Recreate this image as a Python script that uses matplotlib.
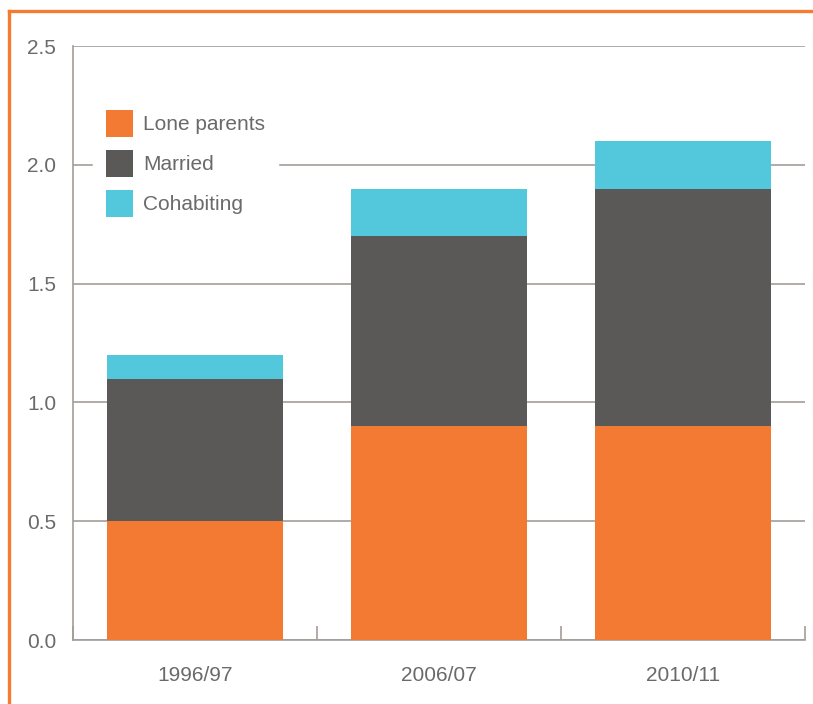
import matplotlib.pyplot as plt
from matplotlib.lines import Line2D
import numpy as np

# data
years = ["1996/97", "2006/07", "2010/11"]
lone_parents = [0.5, 0.9, 0.9]
married = [0.6, 0.8, 1.0]
cohabiting = [0.1, 0.2, 0.2]
yticks = [0.0, 0.5, 1.0, 1.5, 2.0, 2.5]

orange = "#F37A33"
dark = "#5B5957"
cyan = "#53C7DB"
grid_c = "#A39D97"
text_c = "#6A6A6A"

plt.rcParams['font.family'] = ['Liberation Sans', 'DejaVu Sans']

fig = plt.figure(figsize=(8.13, 7.04), dpi=100)
ax = fig.add_axes([73/813, 1 - 640/704, 732/813, 594/704])

x = np.arange(len(years))
w = 0.72
b1 = ax.bar(x, lone_parents, w, color=orange, zorder=3, label="Lone parents")
b2 = ax.bar(x, married, w, bottom=lone_parents, color=dark, zorder=3, label="Married")
bottom3 = np.add(lone_parents, married)
b3 = ax.bar(x, cohabiting, w, bottom=bottom3, color=cyan, zorder=3, label="Cohabiting")

ax.set_xlim(-0.5, len(years) - 0.5)
ax.set_ylim(0, 2.5)
ax.set_yticks(yticks)
ax.set_yticklabels([f"{v:.1f}" for v in yticks])
ax.yaxis.grid(True, color=grid_c, linewidth=1.2, zorder=0)
ax.set_axisbelow(True)

for s in ["top", "right"]:
    ax.spines[s].set_visible(False)
for s in ["left", "bottom"]:
    ax.spines[s].set_color(grid_c)
    ax.spines[s].set_linewidth(1.2)

ax.set_xticks(x)
ax.set_xticklabels(years)
ax.set_xticks(np.arange(-0.5, len(years)), minor=True)
ax.tick_params(axis="x", which="major", length=0, pad=19, labelsize=15, labelcolor=text_c)
ax.tick_params(axis="x", which="minor", direction="in", length=10, width=1.2, color=grid_c)
ax.tick_params(axis="y", length=0, pad=12, labelsize=15, labelcolor=text_c)

leg = ax.legend(handles=[b1, b2, b3], loc="upper left",
                bbox_to_anchor=(20/732, (640-97)/594),
                frameon=True, fancybox=False, framealpha=1, edgecolor="white",
                fontsize=15, handlelength=1.3, handleheight=1.62,
                handletextpad=0.5, labelspacing=0.63, borderpad=0.6,
                borderaxespad=0)
for t in leg.get_texts():
    t.set_color(text_c)
leg.set_zorder(5)

# orange frame
fig.add_artist(Line2D([9/813, 1], [1 - 11/704, 1 - 11/704], color="#F47B30", linewidth=2.4))
fig.add_artist(Line2D([9/813, 9/813], [0, 1 - 11/704], color="#F47B30", linewidth=2.4))

fig.savefig("out.png", dpi=100)
